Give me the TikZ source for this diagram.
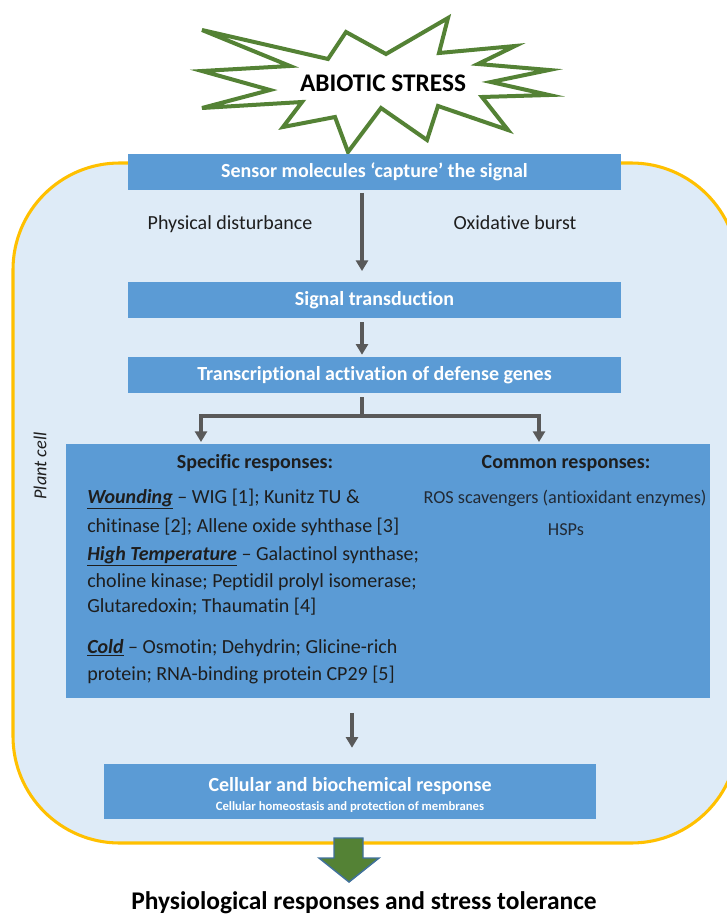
\documentclass[tikz,border=0pt]{standalone}
\usepackage{fontspec}
\setmainfont{Carlito}[Ligatures={NoCommon,NoContextual}]
\usetikzlibrary{arrows.meta}
\definecolor{boxblue}{HTML}{5B9BD5}
\definecolor{cellfill}{HTML}{DEEBF7}
\definecolor{cellborder}{HTML}{FFC000}
\definecolor{arrgray}{HTML}{595959}
\definecolor{stargreen}{HTML}{548235}
\definecolor{arrowedge}{HTML}{41719C}
\definecolor{txt}{HTML}{1E1E1E}
\definecolor{rostxt}{HTML}{222A35}
\begin{document}
\begin{tikzpicture}[x=0.75pt,y=-0.75pt,
  bluebox/.style={fill=boxblue, draw=none, inner sep=0pt, text=white,
    font=\bfseries\fontsize{15}{18}\selectfont, minimum width=369.75pt},
  arr/.style={draw=arrgray, line width=2.6pt, -{Triangle[width=9pt,length=8pt]}},
  ln/.style={draw=arrgray, line width=2.6pt},
  body/.style={text=txt, font=\fontsize{15}{18}\selectfont, inner sep=0pt},
  lineleft/.style={body, anchor=base west},
  head/.style={text=txt, font=\bfseries\fontsize{15}{18}\selectfont, inner sep=0pt, anchor=base},
  cellwall/.style={draw=cellborder, fill=cellfill, line width=2.3pt, rounded corners=80pt},
  starline/.style={draw=stargreen, fill=white, line width=3pt, line join=miter}
]
\useasboundingbox (0,0) rectangle (726,914);

% plant cell
\path[cellwall] (13,163) rectangle (738,843);
\node[text=txt, font=\itshape\fontsize{13.7}{16}\selectfont, rotate=90, inner sep=0pt] (plantcell) at (40,466) {Plant cell};

% star
\draw[starline] (202,30) -- (328,59) -- (346,32) -- (386,54) -- (448,18) -- (439,53)
  -- (515,46) -- (478,64) -- (549,70) -- (491,82) -- (549,95) -- (482,97)
  -- (508,130) -- (438,106) -- (427,140) -- (381,108) -- (348,152) -- (335,117)
  -- (283,127) -- (302,102) -- (202,108) -- (270,90) -- (202,71) -- (290,66) -- cycle;
\node[font=\bfseries\fontsize{19}{22}\selectfont, inner sep=0pt] (abiotic) at (383,83) {ABIOTIC STRESS};

% boxes
\node[bluebox, minimum height=27pt] (sensor) at (374.5,172) {Sensor molecules ‘capture’ the signal};
\node[bluebox, minimum height=27pt] (signal) at (374.5,300) {Signal transduction};
\node[bluebox, minimum height=27pt] (trans) at (374.5,375) {Transcriptional activation of defense genes};
\node[bluebox, minimum width=483pt, minimum height=190.5pt] (spec) at (388,571) {};
\node[bluebox, minimum width=369pt, minimum height=41.25pt] (cellresp) at (350,791.5) {};

\node[body, anchor=base] (phys) at (230,229) {Physical disturbance};
\node[body, anchor=base] (oxid) at (515,229) {Oxidative burst};

% connectors
\coordinate (ax) at (362,0);
\coordinate (branch) at (362,416);
\coordinate (sl) at (201,444);
\coordinate (sr) at (539,444);
\coordinate (bx) at (352,0);
\draw[arr, shorten <=2pt, shorten >=8pt] (sensor.south -| ax) -- (signal.north -| ax);
\draw[arr, shorten <=3pt, shorten >=1.5pt] (signal.south -| ax) -- (trans.north -| ax);
\draw[ln, shorten <=3pt] (trans.south -| ax) -- (branch);
\draw[arr, shorten >=1.5pt] (branch) -| (sl);
\draw[arr, shorten >=1.5pt] (branch) -| (sr);
\draw[arr, shorten <=11pt, shorten >=12pt] (spec.south -| bx) -- (cellresp.north -| bx);

% specific responses
\node[head] (spech) at (255,468) {Specific responses:};
\node[lineleft] (w1) at (87,503) {\textbf{\textit{\underline{Wounding}}} – WIG [1]; Kunitz TU \&};
\node[lineleft] (w2) at (87,532) {chitinase [2]; Allene oxide syhthase [3]};
\node[lineleft] (h1) at (87,560) {\textbf{\textit{\underline{High Temperature}}} – Galactinol synthase;};
\node[lineleft] (h2) at (87,587) {choline kinase; Peptidil prolyl isomerase;};
\node[lineleft] (h3) at (87,612) {Glutaredoxin; Thaumatin [4]};
\node[lineleft] (c1) at (87,653) {\textbf{\textit{\underline{Cold}}} – Osmotin; Dehydrin; Glicine-rich};
\node[lineleft] (c2) at (87,680) {protein; RNA-binding protein CP29 [5]};

% common responses
\node[head] (comh) at (566,468) {Common responses:};
\node[text=rostxt, font=\fontsize{13.7}{16}\selectfont, inner sep=0pt, anchor=base] (ros) at (565,503) {ROS scavengers (antioxidant enzymes)};
\node[text=rostxt, font=\fontsize{13.7}{16}\selectfont, inner sep=0pt, anchor=base] (hsp) at (566,535) {HSPs};

% cellular response text
\node[text=white, font=\bfseries\fontsize{15}{18}\selectfont, inner sep=0pt, anchor=base] (cellt) at (350,791) {Cellular and biochemical response};
\node[text=white, font=\bfseries\fontsize{9.5}{11}\selectfont, inner sep=0pt, anchor=base] (cells) at (350,810) {Cellular homeostasis and protection of membranes};

% green block arrow
\draw[fill=stargreen, draw=arrowedge, line width=1.1pt, line join=miter]
  (334,838) -- (363,838) -- (363,858) -- (379,858) -- (349,882) -- (319,858) -- (334,858) -- cycle;

\node[text=black, font=\bfseries\fontsize{19.1}{22}\selectfont, inner sep=0pt, anchor=base] (final) at (364,909) {Physiological responses and stress tolerance};
\end{tikzpicture}
\end{document}
